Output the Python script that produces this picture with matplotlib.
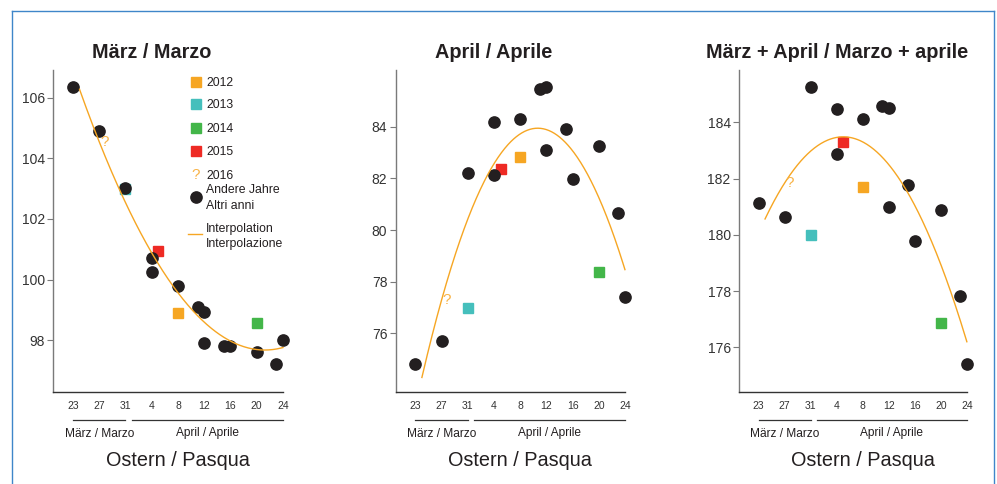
import numpy as np
import matplotlib
matplotlib.use('Agg')
import matplotlib.pyplot as plt
from matplotlib.lines import Line2D

plt.rcParams['font.family'] = ['Liberation Sans', 'DejaVu Sans']

# ---------------- data ----------------
tick_days = [23, 27, 31, 35, 39, 43, 47, 51, 55]
tick_labels = ['23', '27', '31', '4', '8', '12', '16', '20', '24']

other_days = [23, 27, 31, 35, 35, 39, 42, 43, 43, 46, 47, 51, 54, 55]
march_other = [106.36, 104.91, 103.03, 100.26, 100.72, 99.80, 99.10, 98.93,
               97.91, 97.81, 97.81, 97.61, 97.20, 97.99]
april_other = [74.80, 75.71, 82.22, 84.19, 82.13, 84.31, 85.47, 85.55,
               83.12, 83.92, 81.99, 83.26, 80.67, 77.42]
total_other = [181.14, 180.64, 185.27, 184.48, 182.88, 184.13, 184.59, 184.52,
               181.00, 181.76, 179.79, 180.89, 177.83, 175.40]

year_labels = ['2012', '2013', '2014', '2015']
year_days = [39, 31, 51, 36]
march_years = [98.88, 103.00, 98.55, 100.93]
april_years = [82.82, 76.97, 78.37, 82.36]
total_years = [181.69, 179.98, 176.87, 183.30]
year_colors = ['#F6A623', '#45BFBC', '#43B649', '#EE2A24']

label_2016 = '2016'
day_2016 = 27
march_2016 = 104.55
april_2016 = 77.30
total_2016 = 181.85

titles = ['März / Marzo', 'April / Aprile', 'März + April / Marzo + aprile']
yticks_list = [[98, 100, 102, 104, 106], [76, 78, 80, 82, 84],
               [176, 178, 180, 182, 184]]
month_labels = ['März / Marzo', 'April / Aprile']
xlabel = 'Ostern / Pasqua'
legend_other = ['Andere Jahre', 'Altri anni']
legend_interp = ['Interpolation', 'Interpolazione']

# ---------------- layout ----------------
W, H = 997, 484
fig = plt.figure(figsize=(W / 100, H / 100), dpi=100)

def fx(px):
    return px / W

def fy(py):
    return 1 - py / H

TXT = '#231F20'
DOT = '#231F20'
CURVE = '#F6A623'
QCOL = '#F8B347'

ax_top, ax_bot = 70.0, 392.3
panels = [
    (march_other, march_years, march_2016, (96.28, 106.91), 53.3, 6.5625),
    (april_other, april_years, april_2016, (73.72, 86.20), 395.7, 6.55),
    (total_other, total_years, total_2016, (174.40, 185.86), 739.0, 6.51),
]
xmin, xmax = 20, 56

for i, (oth, yrs, v16, ylim, left_px, ppd) in enumerate(panels):
    width_px = (xmax - xmin) * ppd
    ax = fig.add_axes([fx(left_px), fy(ax_bot), width_px / W,
                       (ax_bot - ax_top) / H])
    ax.set_xlim(xmin, xmax)
    ax.set_ylim(*ylim)
    for s in ['top', 'right']:
        ax.spines[s].set_visible(False)
    ax.spines['left'].set_color('#7a7a7a')
    ax.spines['left'].set_linewidth(1.0)
    ax.spines['bottom'].set_color('#333333')
    ax.spines['bottom'].set_linewidth(1.0)
    ax.spines['bottom'].set_bounds(xmin, tick_days[-1])

    ax.set_yticks(yticks_list[i])
    ax.set_yticklabels([str(t) for t in yticks_list[i]])
    ax.tick_params(axis='y', direction='out', length=4.5, width=0.8,
                   color='#7a7a7a', labelsize=10, labelcolor='#333333', pad=1.5)
    ax.set_xticks(tick_days)
    ax.set_xticklabels(tick_labels)
    ax.tick_params(axis='x', length=0, labelsize=7.5, labelcolor='#333333', pad=6.0)

    # coloured years (squares)
    for d, v, c in zip(year_days, yrs, year_colors):
        ax.plot([d], [v], marker='s', markersize=7.7, color=c,
                linestyle='none', zorder=3, clip_on=False)
    # other years
    ax.plot(other_days, oth, marker='o', markersize=8.1, color=DOT,
            linestyle='none', zorder=4, clip_on=False)
    # interpolation (quadratic fit of the plotted years)
    fit_days = np.array(other_days + year_days, dtype=float)
    fit_vals = np.array(list(oth) + list(yrs), dtype=float)
    coef = np.polyfit(fit_days, fit_vals, 2)
    xs = np.linspace(24, 55, 300)
    ax.plot(xs, np.polyval(coef, xs), color=CURVE, linewidth=1.0, zorder=5)
    # 2016
    ax.annotate('?', (day_2016, v16), xytext=(3.7, 0), textcoords='offset points',
                ha='center', va='center', fontsize=11, color=QCOL, zorder=6)

    # title
    tr = ax.get_xaxis_transform()
    ax.text(35, 1 + 11.7 / (ax_bot - ax_top), titles[i], transform=tr,
            ha='center', va='baseline', fontsize=14.3, fontweight='bold', color=TXT)

    # month brackets
    hpx = ax_bot - ax_top
    yl = -(420 - ax_bot) / hpx
    ax.plot([23, 31], [yl, yl], transform=tr, color='#333333', lw=0.9, clip_on=False)
    ax.plot([32, 55], [yl, yl], transform=tr, color='#333333', lw=0.9, clip_on=False)
    ym = -(434 - ax_bot) / hpx
    ax.text(27, ym, month_labels[0], transform=tr, ha='center', va='center',
            fontsize=8.6, color=TXT)
    ax.text(43.5, ym + 1.0 / hpx, month_labels[1], transform=tr, ha='center',
            va='center', fontsize=8.6, color=TXT)
    yo = -(461 - ax_bot) / hpx
    ax.text(39, yo, xlabel, transform=tr, ha='center', va='center',
            fontsize=14.3, color=TXT)

# ---------------- legend (panel 1) ----------------
mx = 195.7
tx = 206
fs = 8.8
rows = [81.7, 104, 128, 150.7]
for yy, lab, c in zip(rows, year_labels, year_colors):
    fig.add_artist(Line2D([fx(mx)], [fy(yy)], marker='s', markersize=7.7,
                          color=c, linestyle='none', transform=fig.transFigure))
    fig.text(fx(tx), fy(yy + 4.4), lab, fontsize=fs, va='baseline', color=TXT)
fig.text(fx(mx), fy(175), '?', fontsize=11, ha='center', va='center', color=QCOL)
fig.text(fx(tx), fy(175 + 4.4), label_2016, fontsize=fs, va='baseline', color=TXT)
fig.add_artist(Line2D([fx(mx)], [fy(196.7)], marker='o', markersize=8.1,
                      color=DOT, linestyle='none', transform=fig.transFigure))
fig.text(fx(tx), fy(188.3 + 4.4), legend_other[0], fontsize=fs, va='baseline', color=TXT)
fig.text(fx(tx), fy(204.5 + 4.4), legend_other[1], fontsize=fs, va='baseline', color=TXT)
fig.add_artist(Line2D([fx(188.3), fx(202.3)], [fy(234), fy(234)], color=CURVE,
                      linewidth=1.0, transform=fig.transFigure))
fig.text(fx(tx), fy(227.3 + 4.4), legend_interp[0], fontsize=fs, va='baseline', color=TXT)
fig.text(fx(tx), fy(242.3 + 4.4), legend_interp[1], fontsize=fs, va='baseline', color=TXT)

# ---------------- frame ----------------
fc = '#3F86C9'
fig.add_artist(Line2D([fx(12), fx(994)], [fy(10.7), fy(10.7)], color=fc, lw=1.0,
                      transform=fig.transFigure))
fig.add_artist(Line2D([fx(12), fx(12)], [fy(10.7), 0], color=fc, lw=1.0,
                      transform=fig.transFigure))
fig.add_artist(Line2D([fx(994), fx(994)], [fy(10.7), 0], color=fc, lw=1.0,
                      transform=fig.transFigure))

fig.savefig('out.png', dpi=100)
